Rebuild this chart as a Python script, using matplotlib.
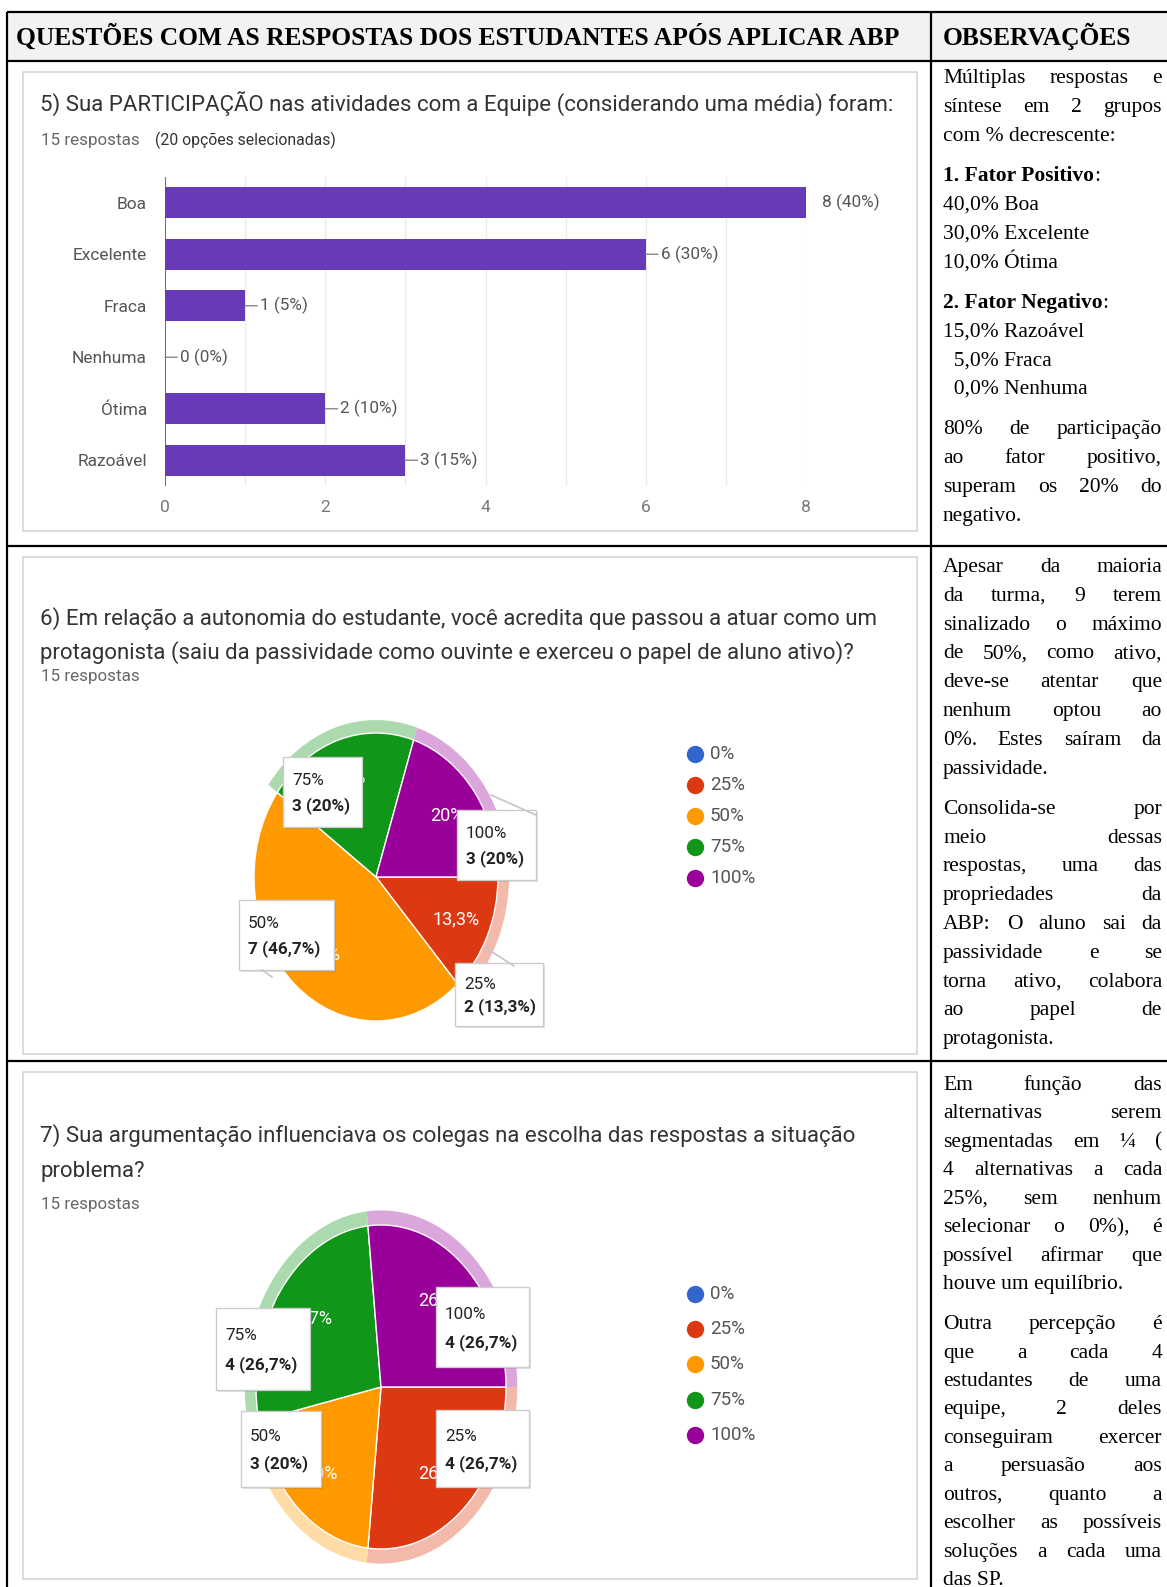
import numpy as np
import matplotlib
matplotlib.use("Agg")
import matplotlib.pyplot as plt
from matplotlib.patches import Rectangle
from matplotlib.colors import to_rgb

W, H = 1167, 1587

# ---- data ----
header_left = "QUESTÕES COM AS RESPOSTAS DOS ESTUDANTES APÓS APLICAR ABP"
header_right = "OBSERVAÇÕES"

q5_title = "5) Sua PARTICIPAÇÃO nas atividades com a Equipe (considerando uma média) foram:"
q5_sub = "15 respostas"
q5_sub2 = "(20 opções selecionadas)"
q5_labels = ["Boa", "Excelente", "Fraca", "Nenhuma", "Ótima", "Razoável"]
q5_counts = [8, 6, 1, 0, 2, 3]

q6_title = ["6) Em relação a autonomia do estudante, você acredita que passou a atuar como um",
            "protagonista (saiu da passividade como ouvinte e exerceu o papel de aluno ativo)?"]
q7_title = ["7) Sua argumentação influenciava os colegas na escolha das respostas a situação",
            "problema?"]
pie_labels = ["0%", "25%", "50%", "75%", "100%"]
q6_counts = [0, 2, 7, 3, 3]
q7_counts = [0, 4, 3, 4, 4]

obs_row1 = [
    ["Múltiplas respostas e", "síntese em 2 grupos", "com % decrescente:"],
    [("1. Fator Positivo", ":"), "40,0% Boa", "30,0% Excelente", "10,0% Ótima"],
    [("2. Fator Negativo", ":"), "15,0% Razoável", "  5,0% Fraca", "  0,0% Nenhuma"],
    ["80% de participação", "ao fator positivo,", "superam os 20% do", "negativo."],
]
obs_row2 = [
    ["Apesar da maioria", "da turma, 9 terem", "sinalizado o máximo", "de 50%, como ativo,",
     "deve-se atentar que", "nenhum optou ao", "0%. Estes saíram da", "passividade."],
    ["Consolida-se por", "meio dessas", "respostas, uma das", "propriedades da",
     "ABP: O aluno sai da", "passividade e se", "torna ativo, colabora", "ao papel de",
     "protagonista."],
]
obs_row3 = [
    ["Em função das", "alternativas serem", "segmentadas em ¼ (", "4 alternativas a cada",
     "25%, sem nenhum", "selecionar o 0%), é", "possível afirmar que", "houve um equilíbrio."],
    ["Outra percepção é", "que a cada 4", "estudantes de uma", "equipe, 2 deles",
     "conseguiram exercer", "a persuasão aos", "outros, quanto a", "escolher as possíveis",
     "soluções a cada uma", "das SP."],
]

# ---- style ----
pie_colors = ["#3366cc", "#dc3912", "#ff9900", "#109618", "#990099"]
BAR = "#673ab7"
SERIF = "Liberation Serif"
plt.rcParams["font.family"] = ["Roboto", "DejaVu Sans"]

fig = plt.figure(figsize=(W / 100, H / 100), dpi=100)
bg = fig.add_axes([0, 0, 1, 1])
bg.set_xlim(0, W)
bg.set_ylim(H, 0)
bg.axis("off")
ov = fig.add_axes([0, 0, 1, 1], zorder=10)
ov.set_xlim(0, W)
ov.set_ylim(H, 0)
ov.axis("off")
R = fig.canvas.get_renderer()


def px_axes(x0, y0, x1, y1):
    return fig.add_axes([x0 / W, 1 - y1 / H, (x1 - x0) / W, (y1 - y0) / H], zorder=2)


def tw(t):
    return t.get_window_extent(R).width


def fit(ax, x, y, s, width, **kw):
    t = ax.text(x, y, s, fontsize=12, **kw)
    t.set_fontsize(12 * width / tw(t))
    return t


# ---- table frame ----
bg.add_patch(Rectangle((7, 12), W - 7, 49, fc="#f2f2f2", ec="none"))
for y in [12, 61, 546, 1061]:
    bg.plot([7, W], [y, y], color="black", lw=1.6, solid_capstyle="butt")
for x in [7, 931]:
    bg.plot([x, x], [12, H], color="black", lw=1.6, solid_capstyle="butt")

fit(bg, 16, 45, header_left, 880, family=SERIF, fontweight="bold")
fit(bg, 943, 45, header_right, 188, family=SERIF, fontweight="bold")

# ---- observations column ----
FS = 15.5
X0, X1 = 943, 1162
GAP = 11.5


def obs_cell(paras, y, pitch):
    for para in paras:
        heading = isinstance(para[0], tuple)
        for k, line in enumerate(para):
            if isinstance(line, tuple):
                t = bg.text(X0, y, line[0], fontsize=FS, family=SERIF, fontweight="bold")
                bg.text(X0 + tw(t), y, line[1], fontsize=FS, family=SERIF)
            elif heading or k == len(para) - 1:
                bg.text(X0, y, line, fontsize=FS, family=SERIF)
            else:
                words = line.split()
                ts = [bg.text(0, y, w, fontsize=FS, family=SERIF) for w in words]
                ws = [tw(t) for t in ts]
                gap = (X1 - X0 - sum(ws)) / (len(words) - 1)
                x = X0
                for t, w in zip(ts, ws):
                    t.set_x(x)
                    x += w + gap
            y += pitch
        y += GAP


obs_cell(obs_row1, 83, 28.8)
obs_cell(obs_row2, 572, 28.8)
obs_cell(obs_row3, 1090, 28.45)

# ---- google form panels ----
for y0, y1 in [(72, 531), (557, 1054), (1072, 1579)]:
    bg.add_patch(Rectangle((23, y0), 894, y1 - y0, fc="white", ec="#d6d6d6", lw=1.2))

t = fit(bg, 40, 104, q5_title, 851, color="#333333", va="center")
TFS = t.get_fontsize()
s = fit(bg, 41, 140, q5_sub, 98, color="#666666", va="center")
SFS = s.get_fontsize()
fit(bg, 155, 140, q5_sub2, 180, color="#333333", va="center")
for k, line in enumerate(q6_title):
    bg.text(40, 619 + 34 * k, line, fontsize=TFS, color="#333333", va="center")
bg.text(41, 676, q5_sub, fontsize=SFS, color="#666666", va="center")
for k, line in enumerate(q7_title):
    bg.text(40, 1136 + 35 * k, line, fontsize=TFS, color="#333333", va="center")
bg.text(41, 1204, q5_sub, fontsize=SFS, color="#666666", va="center")

# ---- bar chart (question 5) ----
ax1 = px_axes(165, 177, 806, 486)
pos = np.arange(len(q5_labels))
ax1.barh(pos, q5_counts, height=0.6, color=BAR)
ax1.set_xlim(0, 8)
ax1.set_ylim(len(q5_labels) - 0.5, -0.5)
ax1.set_xticks(range(0, 9, 2))
ax1.set_xticks(range(1, 9, 2), minor=True)
ax1.set_yticks(pos)
ax1.set_yticklabels(q5_labels)
ax1.tick_params(which="both", length=0, labelsize=12.5)
ax1.tick_params(axis="x", pad=10, labelcolor="#777777")
ax1.tick_params(axis="y", pad=13, labelcolor="#555555")
ax1.grid(axis="x", which="both", color="#ececec", lw=1)
ax1.set_axisbelow(True)
for sp in ax1.spines.values():
    sp.set_visible(False)
ax1.axvline(0, color="#555555", lw=1.2)
ax1.patch.set_alpha(0)
tot = sum(q5_counts)
for i, v in enumerate(q5_counts):
    lab = f"{v} ({round(100 * v / tot)}%)"
    if v == max(q5_counts):
        ax1.annotate(lab, (v, i), xytext=(16, 0), textcoords="offset pixels",
                     va="center", fontsize=12.3, color="#555555")
    else:
        ax1.annotate(lab, (v, i), xytext=(15, 0), textcoords="offset pixels",
                     va="center", fontsize=12.3, color="#555555",
                     arrowprops=dict(arrowstyle="-", color="#888888", lw=1,
                                     shrinkA=0, shrinkB=0, relpos=(0, 0.5)))


# ---- pies (questions 6 and 7) ----
def light(c, f=0.65):
    r = np.array(to_rgb(c))
    return tuple(r + (1 - r) * f)


def pct_fmt(p):
    if p < 0.05:
        return ""
    s = f"{p:.1f}".replace(".", ",")
    return (s[:-2] if s.endswith(",0") else s) + "%"


def draw_pie(counts, cx, cy, rx, ry, rim, boxes, tails, leg_y0, leg_dy):
    ax = px_axes(cx - 1.15 * rx, cy - 1.15 * ry, cx + 1.15 * rx, cy + 1.15 * ry)
    rim_cols = [light(c) if r else (1, 1, 1, 0) for c, r in zip(pie_colors, rim)]
    ax.pie(counts, radius=1.09, colors=rim_cols, startangle=0,
           counterclock=False, wedgeprops=dict(lw=0))
    ax.pie(counts, radius=1, colors=pie_colors, startangle=0, counterclock=False,
           autopct=pct_fmt, pctdistance=0.72, wedgeprops=dict(ec="white", lw=1),
           textprops=dict(color="white", fontsize=13))
    ax.set_aspect("auto")
    ax.set_xlim(-1.15, 1.15)
    ax.set_ylim(-1.15, 1.15)
    total = sum(counts)
    for (xa, ya), (xb, yb) in tails:
        ov.plot([xa, xb], [ya, yb], color="#c4c4c4", lw=1.2)
    for i, x0, y0, x1, y1 in boxes:
        ov.add_patch(Rectangle((x0 + 2, y0 + 2), x1 - x0, y1 - y0, fc="black", alpha=0.12, ec="none"))
        ov.add_patch(Rectangle((x0, y0), x1 - x0, y1 - y0, fc="white", ec="#cccccc", lw=1))
        h = y1 - y0
        ov.text(x0 + 9, y0 + 0.34 * h, pie_labels[i], fontsize=12.3, color="#222222", va="center")
        ov.text(x0 + 9, y0 + 0.69 * h, f"{counts[i]} ({pct_fmt(100 * counts[i] / total)})",
                fontsize=12.3, color="#222222", va="center", fontweight="bold")
    for k, (lab, c) in enumerate(zip(pie_labels, pie_colors)):
        y = leg_y0 + k * leg_dy
        ov.plot(695, y, "o", ms=12.5, color=c, mec="none")
        ov.text(710, y, lab, fontsize=13.5, color="#555555", va="center")


draw_pie(q6_counts, 376, 877, 122, 144, [1, 1, 0, 1, 1],
         [(3, 283, 757, 362, 827), (4, 457, 810, 536, 880),
          (2, 239, 900, 334, 970), (1, 455, 963, 543, 1026)],
         [((491, 795), (536, 815)), ((486, 948), (514, 966)), ((262, 970), (272, 977))],
         754, 31)
draw_pie(q7_counts, 381, 1387, 125, 162, [1, 1, 1, 1, 1],
         [(4, 436, 1287, 529, 1367), (3, 216, 1308, 310, 1390),
          (2, 241, 1411, 321, 1487), (1, 436, 1410, 529, 1487)],
         [],
         1294, 35.2)

fig.savefig("out.png", dpi=100)
